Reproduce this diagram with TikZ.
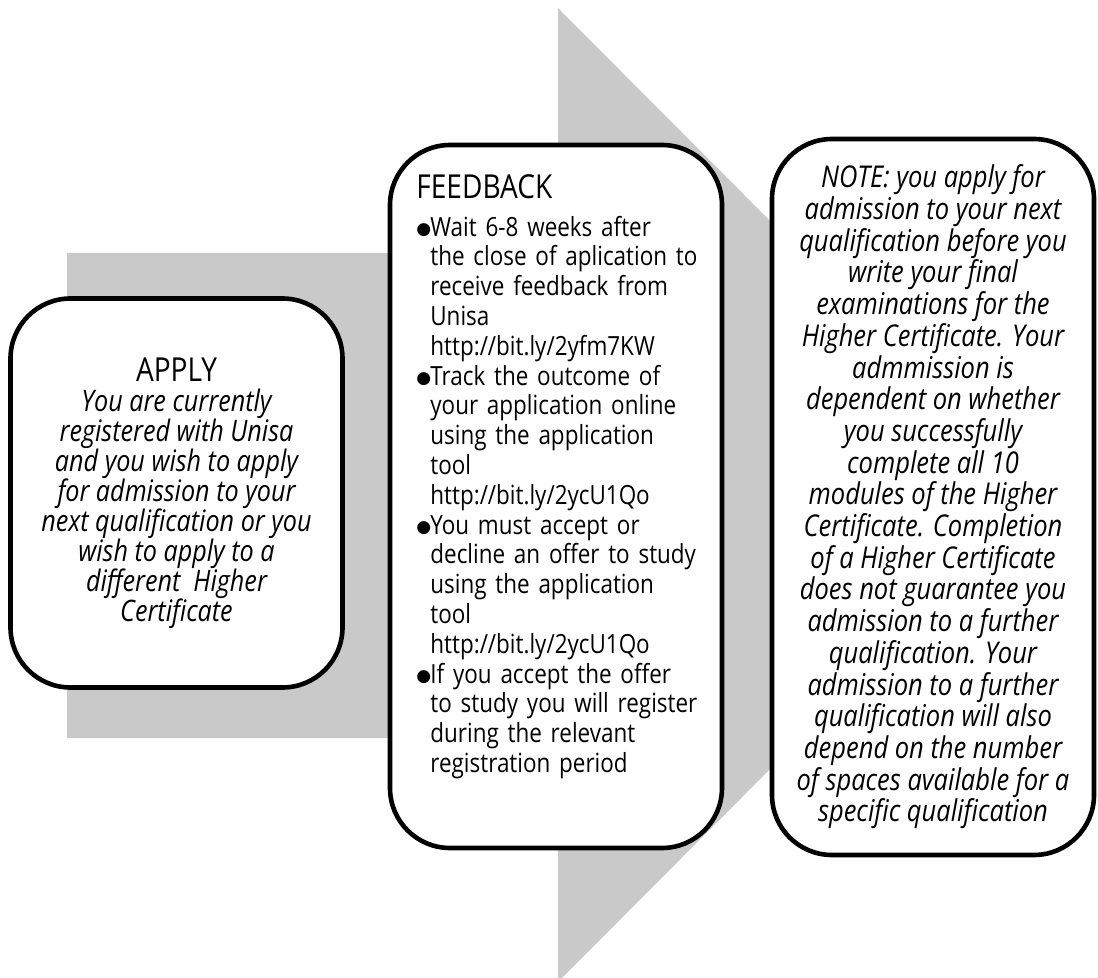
\documentclass[tikz,border=0pt]{standalone}
\usepackage{fontspec}
\setmainfont{Open Sans}[FakeStretch=0.85]
\newfontfamily\symfont{DejaVu Sans}
\definecolor{arrowgray}{RGB}{201,201,201}
\newcommand\titlesize{\fontsize{16.5pt}{20pt}\selectfont}
\newcommand\bodysize{\fontsize{13.2pt}{14.9pt}\selectfont}
\newcommand\fbitem{\par\hangindent=7pt\hangafter=1\noindent
  \makebox[7pt][l]{\raisebox{1pt}{\symfont\fontsize{8.5pt}{8.5pt}\selectfont ●}}}
\tikzset{
  stagebox/.style={draw=black, line width=2.3pt, rounded corners=30pt, fill=white, inner sep=0pt},
}
\begin{document}
\begin{tikzpicture}[x=0.5pt,y=-0.5pt]
  \useasboundingbox (0,0) rectangle (1098,978);
  \clip (0,0) rectangle (1098,978);
  % big gray arrow behind the three stages
  \fill[arrowgray] (67,253) -- (558,253) -- (558,8) -- (1043,495) -- (558,982)
    -- (558,738) -- (67,738) -- cycle;
  \node (apply) [stagebox, align=center, minimum width=166pt, minimum height=194.5pt,
    font=\fontsize{14.8pt}{15pt}\selectfont\itshape] at (176.5,493) {{\upshape\titlesize APPLY}\\
    You are currently\\ registered with Unisa\\ and you wish to apply\\
    for admission to your\\ next qualification or you\\ wish to apply to a\\
    different\ \ Higher\\ Certificate};
  \node (feedback) [stagebox, minimum width=166pt, minimum height=351.5pt] at (556,496.5) {};
  \node (fbtext) [anchor=north west, inner sep=0pt, text width=160pt, font=\bodysize] at (416,174) {%
    {\titlesize FEEDBACK\par}\vspace{4pt}%
    \fbitem Wait 6-8 weeks after\newline the close of aplication to\newline receive feedback from\newline
      Unisa\newline http://bit.ly/2yfm7KW
    \fbitem Track the outcome of\newline your application online\newline using the application\newline
      tool\newline http://bit.ly/2ycU1Qo
    \fbitem You must accept or\newline decline an offer to study\newline using the application\newline
      tool\newline http://bit.ly/2ycU1Qo
    \fbitem If you accept the offer\newline to study you will register\newline during the relevant\newline
      registration period\par};
  \node (note) [stagebox, align=center, minimum width=161pt, minimum height=358pt,
    font=\fontsize{15pt}{15.85pt}\selectfont\itshape] at (933,497) {NOTE: you apply for\\
    admission to your next\\ qualification before you\\ write your final\\
    examinations for the\\ Higher Certificate. Your\\ admmission is\\
    dependent on whether\\ you successfully\\ complete all 10\\ modules of the Higher\\
    Certificate. Completion\\ of a Higher Certificate\\ does not guarantee you\\
    admission to a further\\ qualification. Your\\ admission to a further\\
    qualification will also\\ depend on the number\\ of spaces available for a\\
    specific qualification};
\end{tikzpicture}
\end{document}
